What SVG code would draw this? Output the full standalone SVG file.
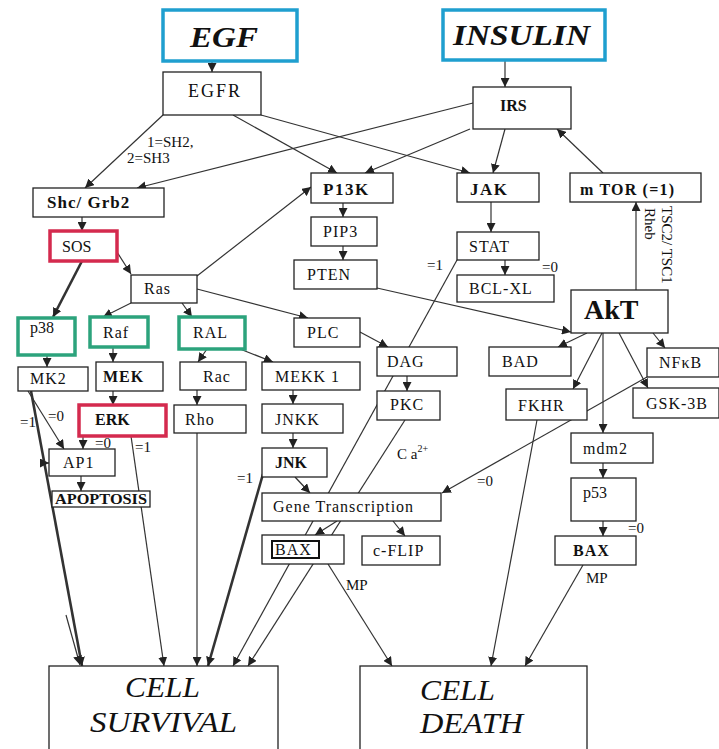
<svg xmlns="http://www.w3.org/2000/svg" width="719" height="749" viewBox="0 0 719 749">
<defs>
<marker id="ah" markerUnits="userSpaceOnUse" markerWidth="9" markerHeight="9" refX="9" refY="4.5" orient="auto">
<path d="M0,0 L9,4.5 L0,9 z" fill="#222"/>
</marker>
<style>
.b{fill:#fff;stroke:#222;stroke-width:1.3}
.cy{fill:#fff;stroke:#1f9fcf;stroke-width:3.5}
.rd{fill:#fff;stroke:#d42a4e;stroke-width:3.5}
.gr{fill:#fff;stroke:#2ca37c;stroke-width:3.5}
text{font-family:'Liberation Serif','DejaVu Serif','Times New Roman',serif}
.t{font-size:16px;letter-spacing:1px;fill:#111}
.bd{font-weight:bold}
.l{font-size:15px;fill:#111}
.big{font-size:29px;font-style:italic;fill:#111}
.e line{stroke:#333;stroke-width:1.2;marker-end:url(#ah)}
.e line.k{stroke-width:2.6}
</style>
</defs>
<rect width="719" height="749" fill="#fff"/>
<g class="e" id="connectors">
<line x1="212" y1="61" x2="212" y2="72"/>
<line x1="505" y1="60" x2="505" y2="87"/>
<line x1="163" y1="115" x2="85" y2="188"/>
<line x1="473" y1="103" x2="137" y2="188"/>
<line x1="233" y1="115" x2="337" y2="173"/>
<line x1="261" y1="115" x2="470" y2="173"/>
<line x1="470" y1="129" x2="365" y2="173"/>
<line x1="505" y1="129" x2="493" y2="173"/>
<line x1="603" y1="173" x2="557" y2="129"/>
<line x1="82" y1="217" x2="82" y2="231"/>
<line x1="117" y1="252" x2="131" y2="274"/>
<line class="k" x1="82" y1="261" x2="53" y2="317"/>
<line x1="197" y1="276" x2="311" y2="187"/>
<line x1="131" y1="303" x2="103" y2="317"/>
<line x1="182" y1="303" x2="192" y2="317"/>
<line x1="197" y1="289" x2="308" y2="318"/>
<line x1="343" y1="203" x2="343" y2="217"/>
<line x1="343" y1="246" x2="343" y2="260"/>
<line x1="377" y1="288" x2="571" y2="332"/>
<line x1="491" y1="202" x2="491" y2="232"/>
<line x1="505" y1="260" x2="505" y2="275"/>
<line x1="457" y1="260" x2="233" y2="666"/>
<line x1="360" y1="332" x2="388" y2="347"/>
<line x1="407" y1="376" x2="407" y2="391"/>
<line x1="207" y1="349" x2="198" y2="362"/>
<line x1="240" y1="349" x2="273" y2="362"/>
<line x1="113" y1="347" x2="113" y2="362"/>
<line x1="113" y1="391" x2="113" y2="405"/>
<line x1="47" y1="355" x2="47" y2="367"/>
<line x1="197" y1="390" x2="197" y2="405"/>
<line x1="293" y1="390" x2="293" y2="404"/>
<line x1="293" y1="433" x2="293" y2="448"/>
<line x1="295" y1="477" x2="310" y2="493"/>
<line class="k" x1="263" y1="474" x2="208" y2="666"/>
<line x1="197" y1="433" x2="197" y2="666"/>
<line x1="131" y1="436" x2="164" y2="666"/>
<line x1="83" y1="436" x2="83" y2="449"/>
<line x1="28" y1="391" x2="64" y2="449"/>
<line class="k" x1="31" y1="391" x2="82" y2="666"/>
<line x1="66" y1="615" x2="80" y2="665"/>
<line x1="43" y1="463" x2="49" y2="463"/>
<line x1="81" y1="476" x2="81" y2="491"/>
<line x1="587" y1="333" x2="558" y2="347"/>
<line x1="602" y1="333" x2="573" y2="389"/>
<line x1="603" y1="333" x2="603" y2="433"/>
<line x1="619" y1="333" x2="648" y2="388"/>
<line x1="653" y1="333" x2="665" y2="348"/>
<line x1="636" y1="290" x2="636" y2="202"/>
<line x1="647" y1="377" x2="442" y2="493"/>
<line x1="537" y1="420" x2="491" y2="666"/>
<line x1="603" y1="463" x2="603" y2="478"/>
<line x1="603" y1="521" x2="603" y2="536"/>
<line x1="583" y1="565" x2="525" y2="666"/>
<line x1="328" y1="564" x2="392" y2="666"/>
<line x1="337" y1="521" x2="315" y2="535"/>
<line x1="393" y1="521" x2="405" y2="536"/>
<line x1="405" y1="420" x2="248" y2="666"/>
</g>
<g id="labels">
<text class="l" x="147" y="147">1=SH2,</text>
<text class="l" x="127" y="163">2=SH3</text>
<text class="l" x="427" y="270">=1</text>
<text class="l" x="542" y="272">=0</text>
<text class="l" transform="translate(645,208) rotate(90)">Rheb</text>
<text class="l" transform="translate(662,206) rotate(90)">TSC2/ TSC1</text>
<text class="l" x="20" y="427">=1</text>
<text class="l" x="48" y="421">=0</text>
<text class="l" x="95" y="448">=0</text>
<text class="l" x="135" y="452">=1</text>
<text class="l" x="237" y="483">=1</text>
<text class="l" x="397" y="459">C a<tspan font-size="10" dy="-7">2+</tspan></text>
<text class="l" x="477" y="486">=0</text>
<text class="l" x="628" y="533">=0</text>
<text class="l" x="346" y="590">MP</text>
<text class="l" x="586" y="583">MP</text>
</g>
<g id="EGF"><rect class="cy" x="163" y="10" width="134" height="51"/><text class="big bd" x="190" y="47" textLength="68" lengthAdjust="spacingAndGlyphs">EGF</text></g>
<g id="INSULIN"><rect class="cy" x="443" y="10" width="162" height="50"/><text class="big bd" x="453" y="45" textLength="137" lengthAdjust="spacingAndGlyphs">INSULIN</text></g>
<g id="EGFR"><rect class="b" x="163" y="72" width="98" height="43"/><text class="t" x="188" y="97" style="font-size:18px;letter-spacing:2px">EGFR</text></g>
<g id="IRS"><rect class="b" x="473" y="87" width="98" height="42"/><text class="t bd" x="500" y="111" style="letter-spacing:0">IRS</text></g>
<g id="ShcGrb2"><rect class="b" x="33" y="188" width="131" height="29"/><text class="t bd" x="47" y="208" style="font-size:17px">Shc/ Grb2</text></g>
<g id="P13K"><rect class="b" x="311" y="173" width="82" height="30"/><text class="t bd" x="323" y="195" style="font-size:17px;letter-spacing:1.5px">P13K</text></g>
<g id="JAK"><rect class="b" x="457" y="173" width="82" height="29"/><text class="t bd" x="470" y="195" style="font-size:17px;letter-spacing:1.5px">JAK</text></g>
<g id="mTOR"><rect class="b" x="570" y="173" width="131" height="29"/><text class="t bd" x="580" y="195" style="letter-spacing:1.2px">m TOR (=1)</text></g>
<g id="SOS"><rect class="rd" x="50" y="231" width="67" height="30"/><text class="t" x="62" y="252" style="letter-spacing:0">SOS</text></g>
<g id="PIP3"><rect class="b" x="311" y="217" width="66" height="29"/><text class="t" x="323" y="237">PIP3</text></g>
<g id="PTEN"><rect class="b" x="294" y="260" width="83" height="29"/><text class="t" x="307" y="280">PTEN</text></g>
<g id="STAT"><rect class="b" x="457" y="232" width="82" height="28"/><text class="t" x="469" y="252">STAT</text></g>
<g id="BCLXL"><rect class="b" x="457" y="275" width="97" height="27"/><text class="t" x="469" y="294">BCL-XL</text></g>
<g id="Ras"><rect class="b" x="131" y="275" width="66" height="28"/><text class="t" x="144" y="294">Ras</text></g>
<g id="AkT"><rect class="b" x="571" y="290" width="97" height="43"/><text class="t bd" x="584" y="319" style="font-size:28px;letter-spacing:0">AkT</text></g>
<g id="p38"><rect class="gr" x="18" y="318" width="57" height="37"/><text class="t" x="30" y="333" style="letter-spacing:0">p38</text></g>
<g id="Raf"><rect class="gr" x="90" y="317" width="58" height="30"/><text class="t" x="103" y="338">Raf</text></g>
<g id="RAL"><rect class="gr" x="179" y="317" width="66" height="32"/><text class="t" x="193" y="338">RAL</text></g>
<g id="PLC"><rect class="b" x="294" y="318" width="66" height="29"/><text class="t" x="307" y="338">PLC</text></g>
<g id="DAG"><rect class="b" x="377" y="347" width="80" height="29"/><text class="t" x="387" y="367">DAG</text></g>
<g id="BAD"><rect class="b" x="489" y="347" width="82" height="29"/><text class="t" x="502" y="367">BAD</text></g>
<g id="NFkB"><rect class="b" x="647" y="348" width="72" height="29"/><text class="t" x="659" y="368">NFκB</text></g>
<g id="MK2"><rect class="b" x="18" y="367" width="70" height="24"/><text class="t" x="30" y="384">MK2</text></g>
<g id="MEK"><rect class="b" x="96" y="362" width="67" height="29"/><text class="t bd" x="103" y="382">MEK</text></g>
<g id="Rac"><rect class="b" x="180" y="362" width="66" height="28"/><text class="t" x="203" y="382">Rac</text></g>
<g id="MEKK1"><rect class="b" x="262" y="362" width="98" height="28"/><text class="t" x="275" y="382">MEKK 1</text></g>
<g id="PKC"><rect class="b" x="377" y="391" width="63" height="29"/><text class="t" x="390" y="410">PKC</text></g>
<g id="FKHR"><rect class="b" x="506" y="389" width="81" height="31"/><text class="t" x="518" y="411">FKHR</text></g>
<g id="GSK3B"><rect class="b" x="633" y="388" width="86" height="30"/><text class="t" x="646" y="409">GSK-3B</text></g>
<g id="Rho"><rect class="b" x="174" y="405" width="72" height="28"/><text class="t" x="185" y="425">Rho</text></g>
<g id="ERK"><rect class="rd" x="79" y="405" width="87" height="31"/><text class="t bd" x="95" y="425" style="letter-spacing:0">ERK</text></g>
<g id="JNKK"><rect class="b" x="262" y="404" width="81" height="29"/><text class="t" x="275" y="425">JNKK</text></g>
<g id="mdm2"><rect class="b" x="571" y="433" width="82" height="30"/><text class="t" x="583" y="454">mdm2</text></g>
<g id="AP1"><rect class="b" x="49" y="449" width="66" height="27"/><text class="t" x="63" y="468">AP1</text></g>
<g id="JNK"><rect class="b" x="262" y="448" width="65" height="29"/><text class="t bd" x="275" y="468" style="letter-spacing:0">JNK</text></g>
<g id="p53"><rect class="b" x="571" y="478" width="65" height="43"/><text class="t" x="583" y="498" style="letter-spacing:0">p53</text></g>
<g id="APOPTOSIS"><rect class="b" x="52" y="491" width="98" height="16"/><text class="t bd" x="55" y="504" style="font-size:15px;letter-spacing:0" textLength="92" lengthAdjust="spacingAndGlyphs">APOPTOSIS</text></g>
<g id="GeneTranscription"><rect class="b" x="262" y="493" width="179" height="28"/><text class="t" x="273" y="512">Gene Transcription</text></g>
<g id="BAX1"><rect class="b" x="262" y="535" width="82" height="29"/><rect fill="none" stroke="#111" stroke-width="2" x="272" y="541" width="47" height="17"/><text class="t" x="275" y="555">BAX</text></g>
<g id="cFLIP"><rect class="b" x="362" y="536" width="78" height="29"/><text class="t" x="373" y="556">c-FLIP</text></g>
<g id="BAX2"><rect class="b" x="555" y="536" width="81" height="29"/><text class="t bd" x="573" y="556">BAX</text></g>
<g id="CellSurvival"><rect class="b" x="49" y="666" width="229" height="95"/><text class="big" x="125" y="697" textLength="75" lengthAdjust="spacingAndGlyphs">CELL</text><text class="big" x="90" y="732" textLength="147" lengthAdjust="spacingAndGlyphs">SURVIVAL</text></g>
<g id="CellDeath"><rect class="b" x="360" y="666" width="227" height="95"/><text class="big" x="420" y="700" textLength="75" lengthAdjust="spacingAndGlyphs">CELL</text><text class="big" x="420" y="733" textLength="103" lengthAdjust="spacingAndGlyphs">DEATH</text></g>
</svg>
